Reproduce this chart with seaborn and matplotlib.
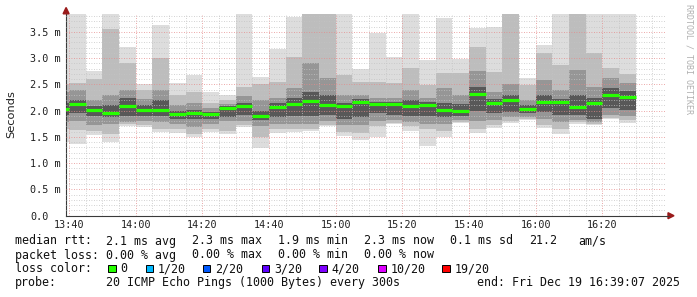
import matplotlib
matplotlib.use("Agg")
import matplotlib.pyplot as plt
import seaborn as sns
import pandas as pd
from matplotlib.patches import Rectangle, Polygon
from matplotlib.lines import Line2D
from matplotlib.ticker import FixedLocator, MultipleLocator

# ---------------- data (ms) ----------------
# column start, minutes after 13:40 (5-minute steps)
start_min = [-5, 0, 5, 10, 15, 20, 25, 30, 35, 40, 45, 50, 55, 60, 65, 70, 75, 80,
             85, 90, 95, 100, 105, 110, 115, 120, 125, 130, 135, 140, 145, 150, 155, 160, 165]
rtt_max = [3.90, 3.90, 2.75, 3.90, 3.21, 2.50, 3.63, 2.53, 2.68, 2.35, 2.29, 3.90, 2.64, 3.17,
           3.79, 3.95, 3.95, 3.90, 2.80, 3.48, 3.02, 3.90, 2.96, 3.76, 2.98, 3.57, 3.60, 3.95,
           2.62, 3.25, 3.90, 3.95, 3.90, 3.90, 3.90]
p10_hi = [2.50, 2.53, 2.60, 3.55, 2.90, 2.39, 3.00, 2.29, 2.35, 2.14, 2.20, 2.45, 2.50, 2.55,
          3.02, 3.90, 3.90, 2.68, 2.55, 2.55, 2.52, 2.81, 2.49, 2.71, 2.71, 3.22, 2.74, 3.90,
          2.48, 3.10, 2.87, 3.90, 3.09, 2.82, 2.70]
p25_hi = [2.35, 2.39, 2.20, 2.30, 2.39, 2.22, 2.39, 2.10, 2.15, 2.05, 2.13, 2.28, 2.20, 2.25,
          2.43, 2.90, 2.62, 2.30, 2.30, 2.25, 2.25, 2.40, 2.25, 2.43, 2.29, 2.75, 2.35, 2.50,
          2.20, 2.58, 2.39, 2.77, 2.45, 2.62, 2.52]
p40_hi = [2.15, 2.20, 2.08, 2.10, 2.24, 2.10, 2.20, 2.00, 2.02, 1.98, 2.09, 2.15, 2.00, 2.15,
          2.25, 2.35, 2.30, 2.15, 2.22, 2.16, 2.17, 2.20, 2.17, 2.15, 2.12, 2.45, 2.22, 2.30,
          2.10, 2.30, 2.22, 2.30, 2.25, 2.43, 2.38]
median = [2.03, 2.12, 2.01, 1.96, 2.08, 2.01, 2.01, 1.93, 1.96, 1.93, 2.05, 2.08, 1.89, 2.07,
          2.12, 2.18, 2.10, 2.08, 2.17, 2.12, 2.12, 2.08, 2.10, 2.01, 1.99, 2.31, 2.15, 2.20,
          2.03, 2.16, 2.16, 2.07, 2.14, 2.29, 2.26]
p40_lo = [1.92, 1.95, 1.90, 1.88, 1.90, 1.90, 1.90, 1.85, 1.85, 1.85, 1.88, 1.92, 1.82, 1.88,
          1.90, 1.90, 1.92, 1.85, 1.88, 1.95, 1.92, 1.90, 1.90, 1.88, 1.90, 2.00, 1.95, 1.98,
          1.95, 1.98, 1.92, 1.92, 1.85, 2.05, 2.02]
p25_lo = [1.78, 1.80, 1.72, 1.75, 1.78, 1.80, 1.78, 1.75, 1.68, 1.75, 1.80, 1.80, 1.70, 1.75,
          1.75, 1.75, 1.80, 1.72, 1.72, 1.80, 1.82, 1.78, 1.75, 1.75, 1.82, 1.80, 1.82, 1.88,
          1.88, 1.85, 1.78, 1.82, 1.78, 1.92, 1.90]
p10_lo = [1.66, 1.64, 1.62, 1.55, 1.74, 1.72, 1.66, 1.66, 1.55, 1.65, 1.62, 1.72, 1.50, 1.66,
          1.65, 1.65, 1.73, 1.60, 1.58, 1.70, 1.77, 1.70, 1.65, 1.62, 1.78, 1.65, 1.72, 1.80,
          1.85, 1.72, 1.65, 1.78, 1.74, 1.86, 1.82]
rtt_min = [1.40, 1.36, 1.53, 1.40, 1.71, 1.69, 1.59, 1.57, 1.49, 1.59, 1.55, 1.69, 1.28, 1.57,
           1.59, 1.61, 1.70, 1.52, 1.45, 1.49, 1.75, 1.61, 1.33, 1.50, 1.76, 1.57, 1.67, 1.76,
           1.83, 1.67, 1.55, 1.74, 1.72, 1.84, 1.77]

x_tick_min = [0, 20, 40, 60, 80, 100, 120, 140, 160]
x_tick_labels = ["13:40", "14:00", "14:20", "14:40", "15:00", "15:20", "15:40", "16:00", "16:20"]
y_tick_vals = [0.0, 0.5, 1.0, 1.5, 2.0, 2.5, 3.0, 3.5]
y_tick_labels = ["0.0", "0.5 m", "1.0 m", "1.5 m", "2.0 m", "2.5 m", "3.0 m", "3.5 m"]

loss_labels = ["0", "1/20", "2/20", "3/20", "4/20", "10/20", "19/20"]
loss_colors = ["#26ff00", "#00b8ff", "#0059ff", "#5e00ff", "#7e00ff", "#dd00ff", "#ff0000"]

rtt_line = ["median rtt:", "2.1 ms avg", "2.3 ms max", "1.9 ms min", "2.3 ms now",
            "0.1 ms sd", "21.2", "am/s"]
loss_line = ["packet loss:", "0.00 % avg", "0.00 % max", "0.00 % min", "0.00 % now"]
probe_line = ["probe:", "20 ICMP Echo Pings (1000 Bytes) every 300s",
              "end: Fri Dec 19 16:39:07 2025"]

df = pd.DataFrame({"start": start_min, "max": rtt_max, "p10_hi": p10_hi, "p25_hi": p25_hi,
                   "p40_hi": p40_hi, "median": median, "p40_lo": p40_lo, "p25_lo": p25_lo,
                   "p10_lo": p10_lo, "min": rtt_min})

# ---------------- figure ----------------
sns.set_style("white")
MONO = "DejaVu Sans Mono"
plt.rcParams["font.family"] = ["DejaVu Sans"]

W, H = 697, 297
fig = plt.figure(figsize=(W / 100, H / 100), dpi=100)
fig.patch.set_facecolor("white")


def fx(x):
    return x / W


def fy(y):
    return 1 - y / H


ax_left, ax_right, ax_top, ax_bottom = 66.1, 666.1, 14.0, 215.7
ax = fig.add_axes([fx(ax_left), fy(ax_bottom), (ax_right - ax_left) / W, (ax_bottom - ax_top) / H])
ax.set_facecolor("white")

bands = [("max", "min", "#dddddd"), ("p10_hi", "p10_lo", "#bdbdbd"),
         ("p25_hi", "p25_lo", "#969696"), ("p40_hi", "p40_lo", "#585858")]
for i, (hi, lo, col) in enumerate(bands):
    ax.bar(df["start"], df[hi] - df[lo], bottom=df[lo], width=5, align="edge",
           color=col, linewidth=0, zorder=1 + i * 0.01)

ax.hlines(df["median"], df["start"], df["start"] + 5, colors="#26ff00", linewidth=2.3, zorder=4)

ax.set_xlim(-0.883, 179.117)
ax.set_ylim(0, 3.84)

ax.xaxis.set_major_locator(FixedLocator(x_tick_min))
ax.xaxis.set_minor_locator(MultipleLocator(5))
ax.yaxis.set_major_locator(FixedLocator(y_tick_vals))
ax.yaxis.set_minor_locator(MultipleLocator(0.1))
ax.set_xticklabels(x_tick_labels, fontfamily=MONO, fontsize=7.3, color="#202020")
ax.set_yticklabels(y_tick_labels, fontfamily=MONO, fontsize=7.3, color="#202020")
for lbl in ax.get_yticklabels():
    lbl.set_horizontalalignment("left")

ax.set_axisbelow(False)
ax.grid(which="minor", color="#c4c4c4", linestyle=(0, (1, 2)), linewidth=0.6)
ax.grid(which="major", color="#e58a8a", linestyle=(0, (1, 2)), linewidth=0.6)

ax.tick_params(axis="x", which="both", length=0, pad=3.3)
ax.tick_params(axis="y", which="major", length=2.5, width=0.6, color="#404040", pad=23.4)
ax.tick_params(axis="y", which="minor", length=2.0, width=0.5, color="#404040")

for s in ["top", "right"]:
    ax.spines[s].set_visible(False)
for s in ["left", "bottom"]:
    ax.spines[s].set_color("#3a3a3a")
    ax.spines[s].set_linewidth(0.8)

# axis arrows
arrow_col = "#9a1a1a"
fig.patches.append(Polygon([(fx(66.1), fy(7.5)), (fx(63.1), fy(13.8)), (fx(69.1), fy(13.8))],
                           closed=True, transform=fig.transFigure, color=arrow_col))
fig.lines.append(Line2D([fx(666.1), fx(668.5)], [fy(215.7), fy(215.7)],
                        transform=fig.transFigure, color="#3a3a3a", linewidth=0.8))
fig.patches.append(Polygon([(fx(674.0), fy(215.7)), (fx(668.0), fy(212.7)), (fx(668.0), fy(218.7))],
                           closed=True, transform=fig.transFigure, color=arrow_col))

# y label and side credit
fig.text(fx(11), fy(114), "Seconds", rotation=90, ha="center", va="center",
         fontsize=8.2, color="#202020")
fig.text(fx(688.5), fy(4.5), "RRDTOOL / TOBI OETIKER", rotation=270, ha="center", va="top",
         fontfamily=MONO, fontsize=6.0, color="#b0b0b0")

# legend area
LFS = 8.4
txt_col = "#101010"
rtt_x = [16, 107, 193, 279, 365, 451, 530, 579.3]
for s, x in zip(rtt_line, rtt_x):
    fig.text(fx(x - 1), fy(244.5), s, fontfamily=MONO, fontsize=LFS, color=txt_col, va="baseline")
loss_x = [16, 107, 193, 279, 365]
for s, x in zip(loss_line, loss_x):
    fig.text(fx(x - 1), fy(258.5), s, fontfamily=MONO, fontsize=LFS, color=txt_col, va="baseline")
fig.text(fx(15), fy(272), "loss color:", fontfamily=MONO, fontsize=LFS, color=txt_col, va="baseline")
sq_x = [108.3, 145.7, 202.7, 261.7, 319.3, 378.3, 442.3]
for lab, col, x in zip(loss_labels, loss_colors, sq_x):
    fig.patches.append(Rectangle((fx(x), fy(272.0)), 7.4 / W, 7.4 / H, transform=fig.transFigure,
                                 facecolor=col, edgecolor="black", linewidth=0.7))
    fig.text(fx(x + 12.3), fy(272), lab, fontfamily=MONO, fontsize=LFS, color=txt_col, va="baseline")
probe_x = [16, 107, 478.3]
for s, x in zip(probe_line, probe_x):
    fig.text(fx(x - 1), fy(286), s, fontfamily=MONO, fontsize=LFS, color=txt_col, va="baseline")

fig.savefig("out.png", dpi=100, facecolor="white")
